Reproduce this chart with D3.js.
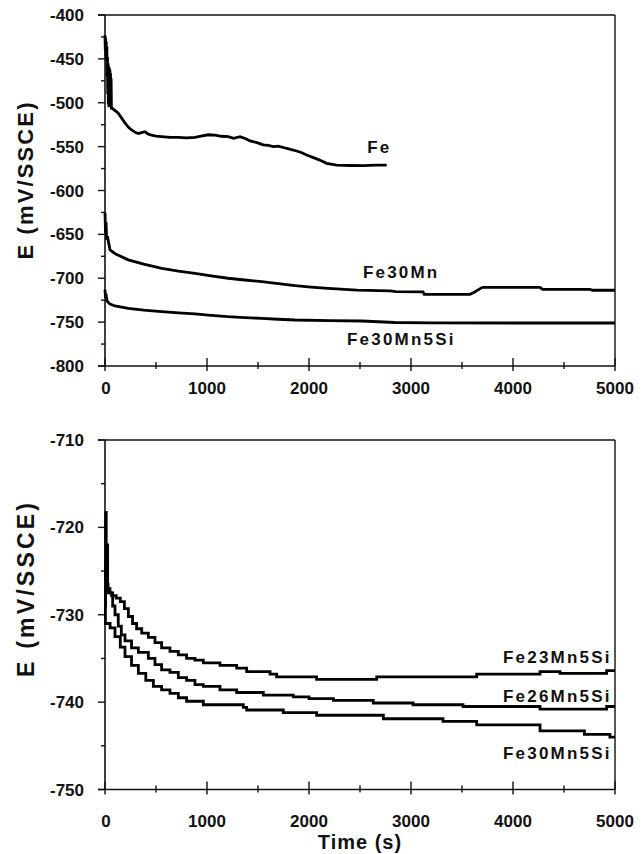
<!DOCTYPE html>
<html><head><meta charset="utf-8">
<script src="https://cdn.jsdelivr.net/npm/d3@7"></script>
<style>
body{margin:0;background:#fff}
svg{display:block;background:#fff}
text{font-family:"Liberation Sans",Arial,sans-serif;font-weight:bold;fill:#111}
</style>
</head><body>
<svg id="c" width="644" height="854"></svg>
<script>
// ---------- data ----------
const timeTicks = [0, 1000, 2000, 3000, 4000, 5000];
const timeMinor = [500, 1500, 2500, 3500, 4500];
const topTicks = [-400, -450, -500, -550, -600, -650, -700, -750, -800];
const topMinor = [-425, -475, -525, -575, -625, -675, -725, -775];
const botTicks = [-710, -720, -730, -740, -750];
const botMinor = [-715, -725, -735, -745];

const topNames = ["Fe", "Fe30Mn", "Fe30Mn5Si"];
const botNames = ["Fe23Mn5Si", "Fe26Mn5Si", "Fe30Mn5Si"];

const fe = [[0,-423],[3,-440],[6,-426],[9,-448],[12,-430],[15,-452],[18,-436],[21,-470],[24,-448],[27,-490],[30,-455],[33,-502],[36,-458],
 [39,-505],[42,-460],[45,-504],[48,-462],[51,-505],[54,-466],[57,-505],[60,-472],[63,-506],[66,-506],
 [100,-509],[130,-512],[160,-517],[196,-523],[230,-528],[261,-531],[300,-534],[327,-535],[360,-534],[392,-533],[420,-535.5],[457,-537],[500,-538],
 [555,-538.6],[640,-539.4],[718,-539.4],[800,-540],[882,-539.4],[940,-538],[1013,-536.5],[1078,-537],[1140,-538.2],[1209,-538.6],[1260,-540.5],
 [1324,-538.6],[1380,-541],[1422,-543.5],[1490,-545.5],[1552,-548],[1600,-548.5],[1650,-550],[1700,-549.5],[1748,-551],[1800,-552.5],[1879,-555],
 [1930,-557],[1977,-559.5],[2075,-564],[2120,-566],[2173,-569],[2271,-571],[2400,-571.5],[2533,-571.7],[2650,-571],[2762,-571]];

const fe30mn = [[0,-625],[5,-648],[10,-636],[16,-656],[24,-652],[49,-667.8],[100,-672],[228,-679],[380,-684],[556,-688.7],[720,-691.8],
 [882,-694.4],[1040,-697.3],[1206,-700],[1370,-702],[1536,-703.9],[1700,-706.2],[1863,-708.4],[2020,-710],[2186,-711.5],[2350,-712.6],
 [2470,-713.5],[2794,-714.5],[2850,-715.3],[3118,-715.6],[3130,-718.3],[3578,-718.3],[3620,-716],[3690,-711],[3706,-710.3],[4265,-710.4],
 [4290,-712.6],[4755,-712.7],[4780,-713.7],[5000,-713.7]];

const fe30mn5si = [[0,-713],[5,-722],[10,-718],[20,-726],[49,-729.5],[98,-731.6],[228,-734.3],[380,-736.3],[556,-738],[720,-739.5],
 [882,-740.7],[1040,-742.3],[1206,-743.8],[1370,-744.8],[1536,-745.7],[1700,-746.7],[1863,-747.6],[2200,-748.2],[2517,-748.7],[2843,-750.4],
 [3200,-750.8],[4000,-751],[5000,-751]];

const fe23 = [[0,-729],[6,-718.3],[12,-726],[18,-722],[26,-727.5],[65,-727.8],[110,-728.1],[150,-728.5],[190,-729.3],[229,-730.2],[270,-731],
 [310,-731.6],[360,-732.1],[425,-732.6],[490,-733.2],[555,-733.8],[637,-734.2],[719,-734.6],[800,-735],[882,-735.2],[964,-735.5],[1127,-735.8],
 [1291,-736.1],[1389,-736.5],[1618,-736.8],[1683,-737.1],[2075,-737.4],[2664,-737.1],[3644,-736.8],[4265,-736.5],[4461,-736.7],[4918,-736.4],[5000,-736.4]];

const fe26 = [[0,-727],[8,-724],[16,-726.5],[30,-727],[49,-727.5],[75,-729],[98,-730],[130,-731.3],[160,-732.3],[196,-733],[260,-733.8],
 [327,-734.3],[425,-735],[490,-735.7],[555,-736.3],[637,-736.6],[719,-737.2],[800,-737.5],[882,-738],[964,-738.2],[1127,-738.6],[1291,-738.9],
 [1552,-739.2],[1846,-739.4],[2000,-739.6],[2239,-739.8],[2630,-740.1],[3020,-740.3],[3510,-740.5],[4265,-740.8],[4918,-740.5],[5000,-740.5]];

const fe30b = [[0,-726],[4,-731],[50,-731.5],[98,-732.5],[150,-733.7],[196,-734.8],[260,-735.8],[327,-736.7],[400,-737.5],[474,-738.2],
 [555,-738.6],[637,-739],[719,-739.5],[800,-739.9],[964,-740.3],[1356,-740.6],[1389,-740.9],[1748,-741.2],[2075,-741.5],[2729,-741.9],
 [3314,-742.2],[3644,-742.6],[4265,-743.3],[4700,-743.7],[4950,-744],[5000,-744]];

// ---------- drawing ----------
const svg = d3.select("#c");
const x = d3.scaleLinear().domain([0, 5000]).range([105, 615]);

function panel(yScale, ticks, minor, seriesList, curve, names, labelPos, title, xLabelBase) {
  const g = svg.append("g");
  const [y0, y1] = yScale.range(); // y0 bottom, y1 top
  const ax = "#111";
  // frame
  g.append("line").attr("x1", x(0)).attr("x2", x(0)).attr("y1", y1).attr("y2", y0).attr("stroke", ax).attr("stroke-width", 1.6);
  g.append("line").attr("x1", x(0) - 7).attr("x2", x(5000)).attr("y1", y0).attr("y2", y0).attr("stroke", ax).attr("stroke-width", 1.6);
  g.append("line").attr("x1", x(0) - 7).attr("x2", x(5000)).attr("y1", y1).attr("y2", y1).attr("stroke", ax).attr("stroke-width", 1.4);
  g.append("line").attr("x1", x(5000)).attr("x2", x(5000)).attr("y1", y1).attr("y2", y0).attr("stroke", ax).attr("stroke-width", 1.4);
  // y ticks
  g.selectAll(".ym").data(ticks).join("line").attr("x1", x(0) - 7).attr("x2", x(0))
    .attr("y1", d => yScale(d)).attr("y2", d => yScale(d)).attr("stroke", ax).attr("stroke-width", 1.4);
  g.selectAll(".yn").data(minor).join("line").attr("x1", x(0) - 4).attr("x2", x(0))
    .attr("y1", d => yScale(d)).attr("y2", d => yScale(d)).attr("stroke", ax).attr("stroke-width", 1.4);
  g.selectAll(".yl").data(ticks).join("text").attr("x", x(0) - 21).attr("y", d => yScale(d)).attr("dy", "0.36em")
    .attr("text-anchor", "end").attr("font-size", 17).text(d => d);
  // x ticks
  g.selectAll(".xm").data(timeTicks).join("line").attr("x1", d => x(d)).attr("x2", d => x(d))
    .attr("y1", y0 - 8).attr("y2", y0 + 5).attr("stroke", ax).attr("stroke-width", 1.4);
  g.selectAll(".xn").data(timeMinor).join("line").attr("x1", d => x(d)).attr("x2", d => x(d))
    .attr("y1", y0 - 4).attr("y2", y0 + 3).attr("stroke", ax).attr("stroke-width", 1.4);
  g.selectAll(".xl").data(timeTicks).join("text").attr("x", d => x(d) + (d === 0 ? 1 : 0)).attr("y", xLabelBase)
    .attr("text-anchor", "middle").attr("font-size", 17).text(d => d);
  // series
  const line = d3.line().x(d => x(d[0])).y(d => yScale(d[1])).curve(curve);
  seriesList.forEach(s => {
    g.append("path").attr("d", line(s)).attr("fill", "none").attr("stroke", "#000")
      .attr("stroke-width", 2.8).attr("stroke-linejoin", "miter");
  });
  // labels
  names.forEach((n, i) => {
    g.append("text").attr("x", x(labelPos[i][0])).attr("y", yScale(labelPos[i][1]))
      .attr("font-size", 17).attr("letter-spacing", "2.2px").text(n);
  });
  // y title
  g.append("text").attr("transform", `translate(${title.x},${title.cy}) rotate(-90)`)
    .attr("text-anchor", "middle").attr("font-size", title.size)
    .attr("textLength", title.len).attr("lengthAdjust", "spacing").text("E (mV/SSCE)");
}

const yTop = d3.scaleLinear().domain([-800, -400]).range([366, 15]);
const yBot = d3.scaleLinear().domain([-750, -710]).range([789.5, 440]);

panel(yTop, topTicks, topMinor, [fe, fe30mn, fe30mn5si], d3.curveLinear, topNames,
  [[2570, -557.3], [2529, -699.7], [2373, -776]], {x: 33, cy: 181, size: 22, len: 157}, 394);
panel(yBot, botTicks, botMinor, [fe23, fe26, fe30b], d3.curveStepAfter, botNames,
  [[3902, -735.5], [3902, -740], [3902, -746.5]], {x: 34, cy: 590, size: 23, len: 174}, 827);

svg.append("text").attr("x", 360).attr("y", 849).attr("text-anchor", "middle")
  .attr("font-size", 20).attr("letter-spacing", "1px").text("Time (s)");
</script>
</body></html>
